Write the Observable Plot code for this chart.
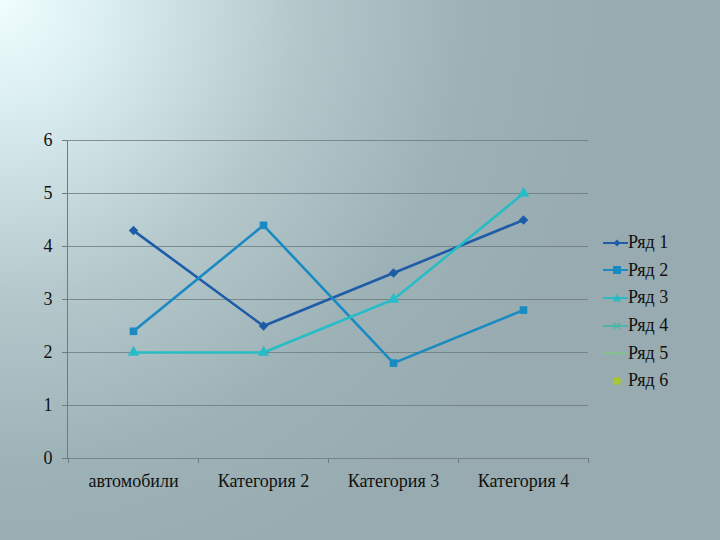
<!DOCTYPE html>
<html>
<head>
<meta charset="utf-8">
<script src="https://cdn.jsdelivr.net/npm/d3@7"></script>
<script src="https://cdn.jsdelivr.net/npm/@observablehq/plot@0.6"></script>
<style>
  html, body { margin: 0; padding: 0; }
  body {
    width: 720px; height: 540px; overflow: hidden; position: relative;
    background: radial-gradient(circle at 0px 0px, #effefe 0px, #d6eaee 130px, #b4c8cc 300px, #9db2b6 470px, #97abb0 620px);
    font-family: "Liberation Serif", "Times New Roman", "DejaVu Serif", "Noto Serif", Georgia, serif;
  }
  #chart { position: absolute; left: 0; top: 0; }
  #legend { position: absolute; left: 600px; top: 229px; }
  .item { display: flex; align-items: center; height: 27.6px; font-size: 18px; color: #111; }
  .item svg { margin-right: 0px; }
</style>
</head>
<body>
<div id="chart"></div>
<div id="legend"></div>
<script>
const categories = ["автомобили", "Категория 2", "Категория 3", "Категория 4"];
const seriesNames = ["Ряд 1", "Ряд 2", "Ряд 3", "Ряд 4", "Ряд 5", "Ряд 6"];
const series1 = [4.3, 2.5, 3.5, 4.5];
const series2 = [2.4, 4.4, 1.8, 2.8];
const series3 = [2, 2, 3, 5];
const yTicks = [0, 1, 2, 3, 4, 5, 6];
const colors = ["#1e5ca8", "#1a8ac2", "#27bcc6", "#4db6aa", "#86c08e", "#a6c634"];
const symbols = ["diamond2", "square", "triangle", "times", "plus", "circle"];

const data = [];
[series1, series2, series3].forEach((vals, si) => {
  vals.forEach((v, i) => data.push({series: seriesNames[si], cat: categories[i], value: v}));
});

const FONT = "'Liberation Serif', 'Times New Roman', 'DejaVu Serif', 'Noto Serif', Georgia, serif";
const bw = 130;
const chart = Plot.plot({
  width: 720,
  height: 540,
  marginLeft: 67,
  marginRight: 132,
  marginTop: 140,
  marginBottom: 82,
  style: {background: "transparent", fontFamily: FONT, fontSize: "18px", color: "#111"},
  x: {type: "band", domain: categories, padding: 0, label: null},
  y: {domain: [0, 6], ticks: yTicks, label: null},
  color: {domain: seriesNames, range: colors},
  symbol: {domain: seriesNames, range: symbols},
  marks: [
    Plot.gridY(yTicks, {stroke: "#6e7b80", strokeOpacity: 0.8, strokeWidth: 1}),
    Plot.axisY(yTicks, {tickSize: 5, tickPadding: 10, stroke: "#6e7b80", fill: "#111", fontSize: 18, fontFamily: FONT, tickFormat: d => String(d)}),
    Plot.frame({anchor: "left", stroke: "#6e7b80"}),
    Plot.axisX({tickSize: 0, tickPadding: 16, fill: "#111", fontSize: 18, fontFamily: FONT}),
    Plot.ruleX(categories, {x: d => d, y1: 0, y2: 0, dx: -bw / 2, insetBottom: -5, stroke: "#6e7b80"}),
    Plot.ruleX([categories[3]], {x: d => d, y1: 0, y2: 0, dx: bw / 2, insetBottom: -5, stroke: "#6e7b80"}),
    Plot.lineY(data, {x: "cat", y: "value", z: "series", stroke: "series", strokeWidth: 2.6}),
    Plot.dot(data, {x: "cat", y: "value", fill: "series", symbol: "series", r: 4.3})
  ]
});
document.getElementById("chart").appendChild(chart);

const legend = document.getElementById("legend");
seriesNames.forEach((name, i) => {
  const item = document.createElement("div");
  item.className = "item";
  const c = colors[i];
  const marker = {
    diamond2: `<path d="M17,3.5 L20.5,7 L17,10.5 L13.5,7Z" fill="${c}"/>`,
    square: `<rect x="13" y="3" width="8" height="8" fill="${c}"/>`,
    triangle: `<path d="M17,2.5 L21,10.5 L13,10.5Z" fill="${c}"/>`,
    times: `<path d="M14,4 L20,10 M20,4 L14,10" stroke="${c}" stroke-width="1.5"/>`,
    plus: `<path d="M17,3 L17,11 M13,7 L21,7" stroke="${c}" stroke-width="1.5"/>`,
    circle: `<circle cx="17" cy="7" r="4" fill="${c}"/>`
  }[symbols[i]];
  const line = i < 5 ? `<line x1="3" y1="7" x2="28" y2="7" stroke="${c}" stroke-width="2"/>` : "";
  item.innerHTML = `<svg width="28" height="14">${line}${marker}</svg><span>${name}</span>`;
  legend.appendChild(item);
});
</script>
</body>
</html>
